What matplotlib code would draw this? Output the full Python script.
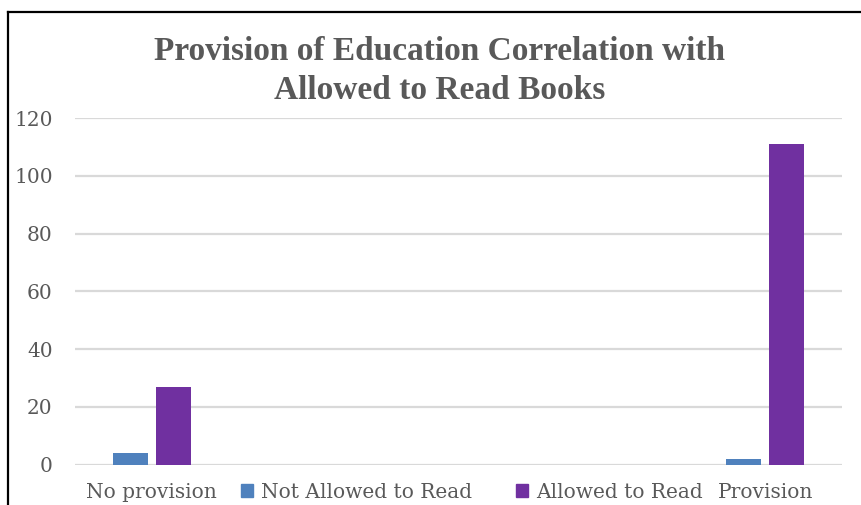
import matplotlib.pyplot as plt
import numpy as np
from matplotlib.patches import Patch
from matplotlib.lines import Line2D

categories = ["No provision", "", "", "", "Provision"]
not_allowed = [4, 0, 0, 0, 2]
allowed = [27, 0, 0, 0, 111]
series_names = ["Not Allowed to Read", "Allowed to Read"]
colors = ["#4F81BD", "#7030A0"]
yticks = [0, 20, 40, 60, 80, 100, 120]

W, H = 861, 505
fig = plt.figure(figsize=(W / 100, H / 100), dpi=100)
ax = fig.add_axes([75 / W, 1 - 464.7 / H, 767 / W, (464.7 - 118) / H])

x = np.arange(len(categories))
bw = 0.23
ax.bar(x - 0.14, not_allowed, bw, color=colors[0], zorder=3)
ax.bar(x + 0.14, allowed, bw, color=colors[1], zorder=3)

ax.set_xlim(-0.5, len(categories) - 0.5)
ax.set_ylim(0, 120)
ax.set_yticks(yticks)
ax.grid(axis="y", color="#D9D9D9", lw=1.6, zorder=0)
ax.set_axisbelow(True)
for s in ax.spines.values():
    s.set_visible(False)

ax.set_xticks(x)
ax.set_xticklabels(categories)
ax.tick_params(axis="both", length=0, labelsize=14.5, labelcolor="#595959")
ax.tick_params(axis="x", pad=13)
ax.tick_params(axis="y", pad=16)
for lab in ax.get_xticklabels() + ax.get_yticklabels():
    lab.set_fontfamily("DejaVu Serif")

fig.text(440 / W, 1 - 71 / H, "Provision of Education Correlation with\nAllowed to Read Books",
         ha="center", va="center", fontsize=24, fontweight="bold", color="#595959",
         family="Liberation Serif", linespacing=1.3)

handles = [Patch(color=c) for c in colors]
fig.legend(handles, series_names, loc="center", bbox_to_anchor=(472 / W, 1 - 492 / H), ncol=2,
           frameon=False, handlelength=0.6, handleheight=0.6, handletextpad=0.4, columnspacing=2.2,
           prop={"family": "DejaVu Serif", "size": 14.5}, labelcolor="#595959")

# border lines like the source frame
fig.add_artist(Line2D([8 / W, 8 / W], [0, 1 - 12 / H], color="black", lw=1.6))
fig.add_artist(Line2D([8 / W, 1], [1 - 12 / H, 1 - 12 / H], color="black", lw=1.6))

fig.savefig("out.png", dpi=100)
